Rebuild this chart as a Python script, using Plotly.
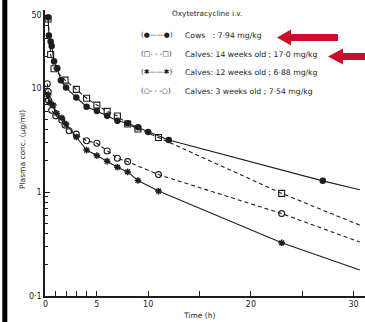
import plotly.graph_objects as go

# ---- data (time h, plasma conc ug/ml) ----
cows_t = [0.25, 0.33, 0.5, 0.6, 0.83, 1.15, 1.5, 2.0, 3.0, 4.0, 5.0, 6.0, 7.0, 8.0, 9.0, 10.0, 12.0, 27.0]
cows_c = [48, 32, 28, 25.4, 18.1, 15.5, 11.9, 10.1, 8.1, 6.6, 6.0, 5.4, 4.85, 4.58, 4.19, 3.78, 3.16, 1.28]
cows_end = (30.6, 1.05)

c14_t = [0.25, 0.5, 0.83, 1.9, 3.0, 4.0, 5.0, 6.0, 7.0, 8.0, 9.0, 11.0, 23.0]
c14_c = [46, 21, 15.3, 11.9, 9.7, 7.97, 6.85, 5.96, 5.38, 4.5, 4.03, 3.34, 0.97]
c14_end = (30.6, 0.48)

c12_t = [0.25, 0.45, 0.76, 1.1, 1.6, 2.0, 3.0, 4.0, 5.0, 6.0, 7.0, 8.0, 9.0, 11.0, 23.0]
c12_c = [8.6, 7.2, 6.85, 5.7, 5.15, 4.5, 3.38, 2.53, 2.24, 1.98, 1.73, 1.56, 1.29, 1.02, 0.325]
c12_end = (30.6, 0.178)

c3_t = [0.17, 0.27, 0.3, 0.6, 1.0, 1.58, 1.9, 2.3, 3.0, 4.0, 5.0, 6.0, 7.0, 8.0, 11.0, 23.0]
c3_c = [11, 9.2, 7.6, 6.1, 5.4, 4.93, 4.4, 3.88, 3.6, 3.11, 2.94, 2.48, 2.11, 1.96, 1.47, 0.62]
c3_end = (30.6, 0.33)

x_major = [0, 5, 10, 20, 30]
x_minor = [1, 2, 3, 4, 15, 25]
y_ticks = [0.1, 1, 10, 50]
y_labels = ["0·1", "1", "10", "50"]
y_minor = [m * d for d in (0.1, 1, 10) for m in range(2, 10)]

title = "Oxytetracycline i.v."
legend_sym = ["(●——●)", "(□- - -□)", "(✱——✱)", "(○- - -○)"]
legend_txt = ["Cows   : 7·94 mg/kg", "Calves: 14 weeks old ; 17·0 mg/kg",
              "Calves: 12 weeks old ; 6·88 mg/kg", "Calves: 3 weeks old ; 7·54 mg/kg"]

INK = "#1e1e1e"
RED = "#c8102e"
W, H = 365, 322
L, R, T, B = 45, 0, 10, 26

def px(x, y):
    return (x - L) / (W - L - R), (H - B - y) / (H - T - B)

fig = go.Figure()
series = [
    (cows_t, cows_c, cows_end, "solid", dict(symbol="circle", size=6.5, color=INK)),
    (c14_t, c14_c, c14_end, "dash", dict(symbol="square-open", size=6, color=INK, line=dict(width=1.1, color=INK))),
    (c12_t, c12_c, c12_end, "solid", dict(symbol="asterisk-open", size=5.5, color=INK, line=dict(width=1.5, color=INK))),
    (c3_t, c3_c, c3_end, "dash", dict(symbol="circle-open", size=6, color=INK, line=dict(width=1.1, color=INK))),
]
for t, c, end, dash, mk in series:
    fig.add_trace(go.Scatter(x=t + [end[0]], y=c + [end[1]], mode="lines",
                             line=dict(color=INK, width=1.1, dash=dash if dash == "solid" else "4px,3px"),
                             showlegend=False, hoverinfo="skip"))
    fig.add_trace(go.Scatter(x=t, y=c, mode="markers", marker=mk, showlegend=False))

fig.update_xaxes(range=[-0.05, 31.11], showline=True, linecolor=INK, linewidth=1.5,
                 tickvals=x_major, ticktext=[str(v) for v in x_major], ticks="inside",
                 ticklen=5, tickcolor=INK, showgrid=False, zeroline=False, automargin=False,
                 tickfont=dict(family="DejaVu Sans", size=8, color=INK),
                 minor=dict(tickmode="array", tickvals=x_minor, ticks="inside", ticklen=5, tickcolor=INK))
fig.update_yaxes(type="log", range=[-1, 1.75], showline=True, linecolor=INK, linewidth=1.5,
                 tickvals=y_ticks, ticktext=y_labels, ticks="inside", ticklen=5, tickcolor=INK,
                 showgrid=False, zeroline=False, automargin=False,
                 tickfont=dict(family="DejaVu Sans", size=8, color=INK),
                 minor=dict(tickmode="array", tickvals=y_minor, ticks="inside", ticklen=3, tickcolor=INK))

ann = []
x0, y0 = px(170, 14)
ann.append(dict(x=x0, y=y0, xref="paper", yref="paper", text=title, showarrow=False,
                xanchor="left", yanchor="middle", font=dict(family="DejaVu Sans", size=7.3, color=INK)))
for i, (s, txt) in enumerate(zip(legend_sym, legend_txt)):
    yy = [35, 54, 72, 91][i]
    xs, ys = px(139, yy)
    ann.append(dict(x=xs, y=ys, xref="paper", yref="paper", text=s, showarrow=False,
                    xanchor="left", yanchor="middle", font=dict(family="DejaVu Sans", size=7, color=INK)))
    xt, yt = px(183, yy)
    ann.append(dict(x=xt, y=yt, xref="paper", yref="paper", text=txt, showarrow=False,
                    xanchor="left", yanchor="middle", font=dict(family="DejaVu Sans", size=7.7, color=INK)))
xa, ya = px(199, 315)
ann.append(dict(x=xa, y=ya, xref="paper", yref="paper", text="Time (h)", showarrow=False,
                xanchor="center", yanchor="middle", font=dict(family="DejaVu Sans", size=7.5, color=INK)))
xy, yy = px(22, 150)
ann.append(dict(x=xy, y=yy, xref="paper", yref="paper", text="Plasma conc. (µg/ml)", showarrow=False,
                textangle=-90, xanchor="center", yanchor="middle",
                font=dict(family="DejaVu Sans", size=7.5, color=INK)))

def arrow(tip_x, cy, head_base, end_x, hh, sh):
    pts = [(tip_x, cy), (head_base, cy - hh), (head_base, cy - sh), (end_x, cy - sh),
           (end_x, cy + sh), (head_base, cy + sh), (head_base, cy + hh)]
    p = [px(a, b) for a, b in pts]
    return "M " + " L ".join(f"{a:.4f},{b:.4f}" for a, b in p) + " Z"

shapes = [
    dict(type="path", xref="paper", yref="paper", path=arrow(277, 37.5, 291, 338, 8, 3.5),
         fillcolor=RED, line=dict(width=0)),
    dict(type="path", xref="paper", yref="paper", path=arrow(328, 56.5, 343, 370, 8, 3.5),
         fillcolor=RED, line=dict(width=0)),
]
bx, by0 = px(4.8, 325)
_, by1 = px(4.8, -3)
shapes.append(dict(type="line", xref="paper", yref="paper", x0=bx, y0=by0, x1=bx, y1=by1,
                   line=dict(color="black", width=5), layer="above"))

fig.update_layout(width=W, height=H, margin=dict(l=L, r=R, t=T, b=B),
                  paper_bgcolor="white", plot_bgcolor="white",
                  annotations=ann, shapes=shapes)
fig.write_html("out.html", config={"displayModeBar": False},
               post_script="document.body.style.margin='0';document.body.style.overflow='hidden';")
